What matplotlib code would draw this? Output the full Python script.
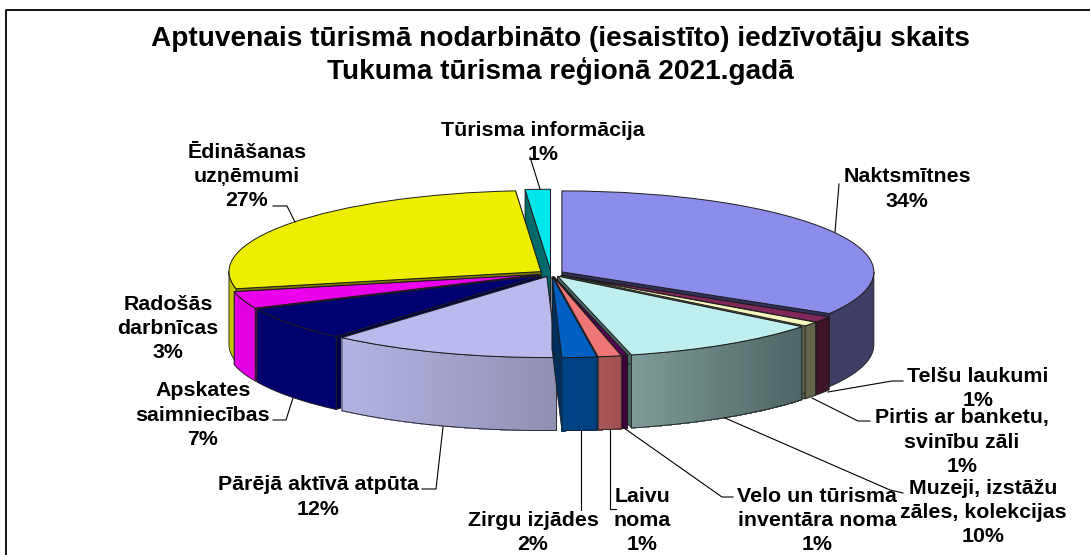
import matplotlib

matplotlib.use("Agg")
import matplotlib.pyplot as plt
import numpy as np
from matplotlib.colors import to_rgb

W, H = 1090, 555

# clockwise from 12 o'clock; shares, percents as printed on the chart
labels = ["Naktsmītnes", "Telšu laukumi", "Pirtis ar banketu,\nsvinību zāli", "Muzeji, izstāžu\nzāles, kolekcijas",
          "Velo un tūrisma\ninventāra noma", "Laivu\nnoma", "Zirgu izjādes", "Pārējā aktīvā atpūta",
          "Apskates\nsaimniecības", "Radošās\ndarbnīcas", "Ēdināšanas\nuzņēmumi", "Tūrisma informācija"]
values = [33.6, 1.2, 0.9, 10.5, 0.3, 1.2, 1.8, 11.9, 6.8, 3.4, 27.1, 1.3]
percents = [34, 1, 1, 10, 1, 1, 2, 12, 7, 3, 27, 1]
top_cols = ["#8C8CEB", "#80285A", "#F5F5C0", "#BEEEEE", "#5A005A", "#EE7676",
            "#005FC3", "#BABAEE", "#000073", "#EB00EB", "#EEEE00", "#00E6EB"]
wall_left = ["#3E3E66", "#3E1428", "#64644B", "#7F9C98", "#3C003C", "#A85858",
             "#004385", "#B4B4E4", "#00006E", "#E100E1", "#C4C400", "#008A8A"]
wall_right = ["#3E3E66", "#3E1428", "#64644B", "#4F6464", "#3C003C", "#A05050",
              "#004080", "#9090B4", "#00006E", "#E100E1", "#C4C400", "#008A8A"]
face_cols = ["#30305A", "#3E1428", "#64644B", "#4A6464", "#2A002A", "#7A3C3C",
             "#002F5E", "#6A6A90", "#00004A", "#800080", "#787800", "#006969"]

# text layout: label centre x, y of first line, in picture pixels
label_x = [907, 978, 962, 983, 817, 642, 533, 318, 203, 168, 247, 543]
label_y = [177, 376, 418, 488, 496, 496, 520, 485, 391, 304, 152, 130]
leaders = [[(839, 184), (835, 232)],
           [(903, 381), (892, 381), (828, 392)],
           [(870, 421), (858, 421), (812, 398)],
           [(903, 493), (890, 490), (725, 418)],
           [(733, 497), (722, 497), (624, 428)],
           [(616, 509), (610, 509), (610, 430)],
           [(581, 510), (581, 430)],
           [(422, 489), (436, 489), (443, 427)],
           [(273, 420), (286, 420), (293, 398)],
           [(273, 206), (287, 206), (295, 222)],
           [(530, 157), (540, 189)]]

CX, CY = 551, 273.5     # pie centre, px
RX, RY = 312, 81        # ellipse half axes, px
DEPTH = 73 / RY         # wall height in axis units
EXPLODE = 0.04
EDGE = "#1c1c1c"

plt.rcParams["font.family"] = ["Liberation Sans", "DejaVu Sans"]
fig = plt.figure(figsize=(W / 100, H / 100), dpi=100, facecolor="white")

# overlay in picture pixels for frame, text, leader lines
over = fig.add_axes([0, 0, 1, 1], zorder=2)
over.set_xlim(0, W)
over.set_ylim(H, 0)
over.axis("off")

# pie axes: 1 data unit = RX px across, RY px down, which squashes pie() to an ellipse
XM, YT, YB = 1.4, 1.5, 2.5
pie_ax = fig.add_axes([(CX - XM * RX) / W, (H - CY - YB * RY) / H, 2 * XM * RX / W, (YT + YB) * RY / H], zorder=1)
wedges, _ = pie_ax.pie(values, explode=[EXPLODE] * len(values), startangle=90, counterclock=False, colors=top_cols,
                       wedgeprops=dict(edgecolor=EDGE, linewidth=0.7))
pie_ax.set_aspect("auto")
pie_ax.set_xlim(-XM, XM)
pie_ax.set_ylim(-YB, YT)
pie_ax.patch.set_visible(False)


def draw_walls(ax, w, i, z):
    x0, y0 = w.center
    # radial cut faces first, they sit behind the rim
    for deg in (w.theta1, w.theta2):
        ex, ey = x0 + np.cos(np.radians(deg)), y0 + np.sin(np.radians(deg))
        ax.fill([x0, ex, ex, x0], [y0, ey, ey - DEPTH, y0 - DEPTH], fc=face_cols[i], ec=EDGE, lw=0.6, zorder=z)
    # rim, only the front half of the ellipse shows
    t1, t2 = w.theta1 % 360, w.theta2 % 360
    if t2 <= t1:
        t2 += 360
    lo, hi = max(t1, 180), min(t2, 360)
    if hi <= lo:
        return
    t = np.radians(np.linspace(lo, hi, max(int((hi - lo) * 2), 3)))
    x, y = x0 + np.cos(t), y0 + np.sin(t)
    if wall_left[i] == wall_right[i]:
        ax.fill(np.r_[x, x[::-1]], np.r_[y, y[::-1] - DEPTH], fc=wall_left[i], lw=0, zorder=z)
    else:
        c0, c1 = np.array(to_rgb(wall_left[i])), np.array(to_rgb(wall_right[i]))
        for k in range(len(t) - 1):
            f = ((x[k] + x[k + 1]) / 2 - x.min()) / max(x.max() - x.min(), 1e-6)
            col = c0 + (c1 - c0) * f
            ax.fill([x[k], x[k + 1], x[k + 1], x[k]], [y[k], y[k + 1], y[k + 1] - DEPTH, y[k] - DEPTH],
                    fc=col, ec=col, lw=0.5, antialiased=False, zorder=z)
    ax.plot(np.r_[x, x[::-1], x[0]], np.r_[y, y[::-1] - DEPTH, y[0]], color=EDGE, lw=0.6, zorder=z)


# painter's order: slices at the back of the ellipse first
mids = [np.sin(np.radians((w.theta1 + w.theta2) / 2)) for w in wedges]
for z, i in enumerate(np.argsort(mids)[::-1]):
    draw_walls(pie_ax, wedges[i], i, 3 + z)
    wedges[i].set_zorder(3 + z + 0.5)

# frame, only left and top edges are in the picture
over.plot([6, 6, W], [H, 10, 10], color="black", lw=1.3)

over.text(560, 39, "Aptuvenais tūrismā nodarbināto (iesaistīto) iedzīvotāju skaits", ha="center", va="center",
          fontsize=20.2, fontweight="bold")
over.text(560, 71, "Tukuma tūrisma reģionā 2021.gadā", ha="center", va="center", fontsize=20.2, fontweight="bold")

for pts in leaders:
    over.plot([p[0] for p in pts], [p[1] for p in pts], color="black", lw=0.8)

for i, lab in enumerate(labels):
    lines = lab.split("\n") + [f"{percents[i]}%"]
    for k, line in enumerate(lines):
        over.text(label_x[i], label_y[i] + k * 24.4, line, ha="center", va="center", fontsize=15.4, fontweight="bold")

fig.savefig("out.png", dpi=100)
